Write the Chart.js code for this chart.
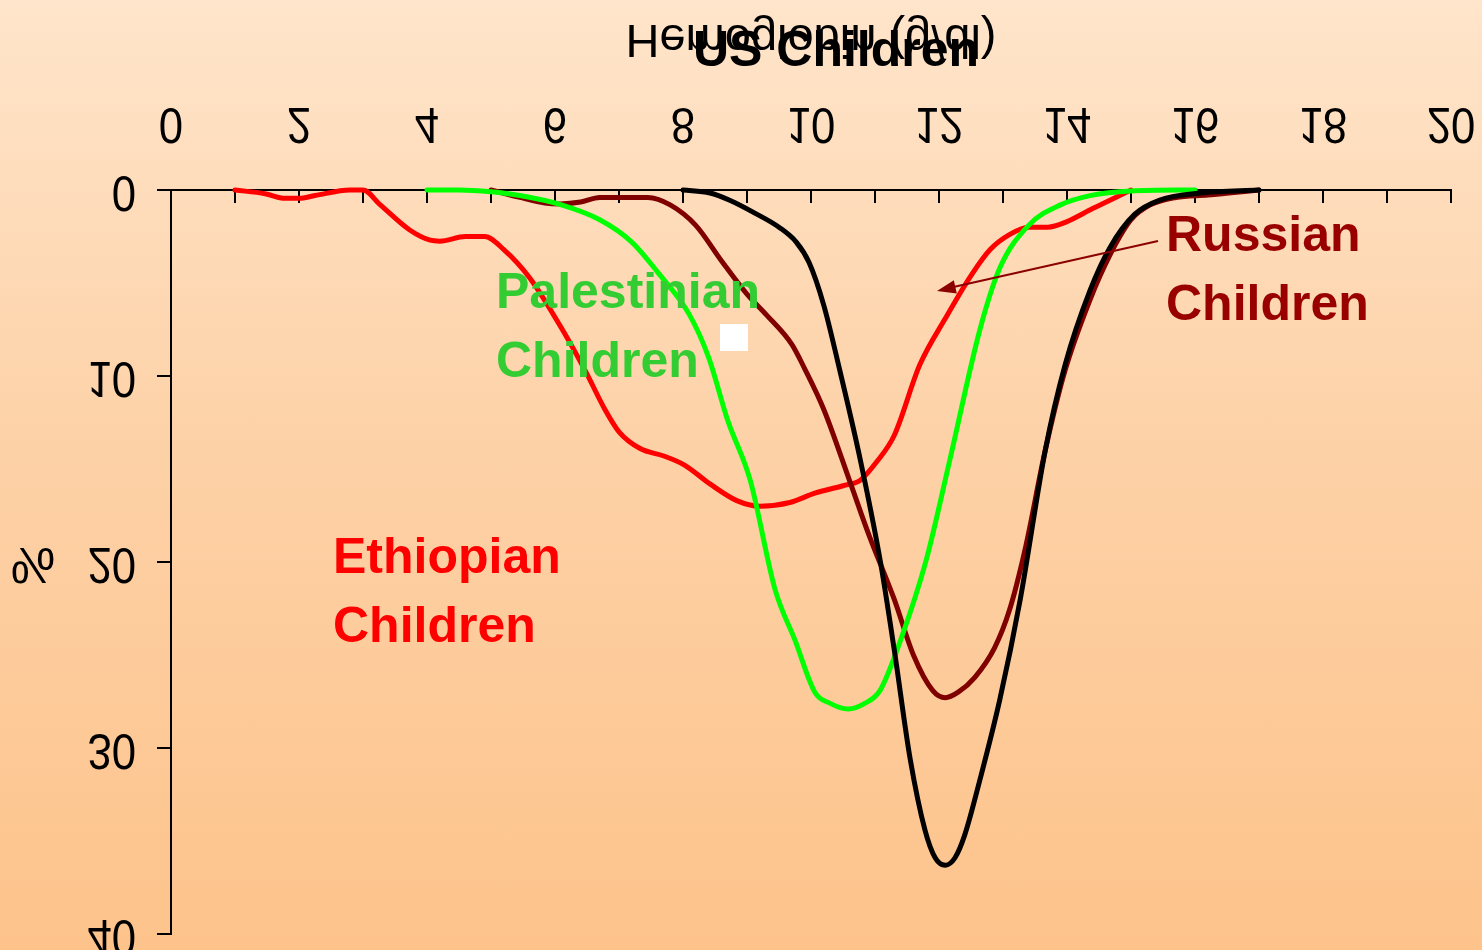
<!DOCTYPE html>
<html>
<head>
<meta charset="utf-8">
<script src="https://cdn.jsdelivr.net/npm/chart.js@4/dist/chart.umd.min.js"></script>
<style>
  html, body { margin: 0; padding: 0; overflow: hidden; }
  body { width: 1482px; height: 950px; background: linear-gradient(to bottom, #FFE5CB 0%, #FDD2A8 45%, #FDC38B 100%); }
  canvas { display: block; }
</style>
</head>
<body>
<canvas id="c" width="1482" height="950"></canvas>
<script>
// ---- Data (hemoglobin g/dl on x, % on y) ----
const ethiopianX = [1.0, 1.47, 1.78, 2.0, 2.25, 2.8, 3.0, 3.27, 3.73, 4.05, 4.2, 4.6, 4.9, 5.2, 5.6, 6.08, 6.47, 6.78, 7.0, 7.33, 7.7, 8.03, 8.42, 8.84, 9.2, 9.67, 10.06, 10.5, 10.77, 11.03, 11.3, 11.7, 12.1, 12.5, 12.8, 13.1, 13.4, 13.7, 14.0, 14.4, 15.0];
const ethiopianY = [0, 0.2, 0.45, 0.45, 0.3, 0, 0, 0.8, 2.15, 2.7, 2.75, 2.5, 2.5, 3.2, 4.7, 7.3, 9.7, 11.8, 13.0, 13.9, 14.3, 14.8, 15.8, 16.7, 17.0, 16.8, 16.3, 15.9, 15.6, 14.6, 13.2, 9.4, 6.9, 4.6, 3.2, 2.4, 2.0, 2.0, 1.7, 1.0, 0];

const palestinianX = [4.0, 4.5, 5.0, 5.45, 6.1, 6.7, 7.2, 7.6, 8.1, 8.4, 8.7, 9.05, 9.44, 9.75, 10.06, 10.3, 10.58, 10.84, 11.08, 11.4, 11.8, 12.17, 12.64, 12.95, 13.4, 13.9, 14.36, 15.0, 16.0];
const palestinianY = [0, 0, 0.1, 0.3, 0.8, 1.6, 2.8, 4.4, 6.7, 9.0, 12.4, 15.6, 21.5, 24.2, 27.0, 27.6, 27.9, 27.6, 26.9, 24.2, 19.9, 14.5, 7.5, 4.2, 1.9, 0.8, 0.3, 0.05, 0];

const russianX = [5.0, 5.45, 5.84, 6.08, 6.4, 6.7, 7.0, 7.45, 7.8, 8.2, 8.6, 9.0, 9.3, 9.7, 9.9, 10.2, 10.6, 10.9, 11.3, 11.6, 11.9, 12.1, 12.3, 12.56, 12.87, 13.1, 13.34, 13.66, 13.97, 14.36, 14.67, 15.0, 15.3, 15.7, 16.2, 17.0];
const russianY = [0, 0.4, 0.7, 0.75, 0.65, 0.4, 0.4, 0.4, 0.8, 1.9, 3.8, 5.6, 6.7, 8.3, 9.6, 11.8, 15.6, 18.5, 22.0, 25.0, 26.9, 27.3, 27.0, 26.2, 24.6, 22.6, 19.4, 14.0, 9.7, 5.9, 3.5, 1.6, 0.8, 0.4, 0.27, 0];

const usX = [8.0, 8.42, 8.73, 9.1, 9.5, 9.77, 9.97, 10.2, 10.45, 10.77, 11.08, 11.3, 11.55, 11.78, 11.94, 12.1, 12.25, 12.4, 12.64, 12.95, 13.27, 13.66, 13.97, 14.36, 14.67, 15.06, 15.45, 16.1, 17.0];
const usY = [0, 0.16, 0.55, 1.2, 2.0, 2.8, 3.9, 6.2, 9.7, 14.5, 19.9, 24.7, 30.6, 34.4, 35.9, 36.3, 35.9, 34.7, 31.7, 27.4, 22.0, 14.0, 9.4, 5.4, 3.1, 1.3, 0.54, 0.16, 0];

const xTickLabels = [0, 2, 4, 6, 8, 10, 12, 14, 16, 18, 20];
const yTickLabels = [0, 10, 20, 30, 40];
const xAxisTitle = 'Hemoglobin (g/dl)';
const yAxisTitle = '%';

function pts(xs, ys) { return xs.map((x, i) => ({ x: x, y: ys[i] })); }

function flipText(ctx, text, x, y, sx, sy) {
  ctx.save();
  ctx.translate(x, y);
  ctx.scale(sx || 1, -(sy || 1));
  ctx.fillText(text, 0, 0);
  ctx.restore();
}

const decorPlugin = {
  id: 'decor',
  afterDraw(chart) {
    const ctx = chart.ctx;
    const xs = chart.scales.x, ys = chart.scales.y;
    ctx.save();
    // flipped tick labels
    ctx.fillStyle = '#000';
    ctx.font = '46px "Liberation Sans", Arial, sans-serif';
    ctx.textAlign = 'center';
    ctx.textBaseline = 'middle';
    xTickLabels.forEach(v => flipText(ctx, String(v), xs.getPixelForValue(v), 122, 0.95, 1.08));
    ctx.textAlign = 'right';
    yTickLabels.forEach(v => flipText(ctx, String(v), 136, ys.getPixelForValue(v), 0.95, 1.08));
    // flipped axis titles
    ctx.textAlign = 'center';
    ctx.font = '47px "Liberation Sans", Arial, sans-serif';
    flipText(ctx, xAxisTitle, (chart.chartArea.left + chart.chartArea.right) / 2, 38);
    ctx.font = '50px "Liberation Sans", Arial, sans-serif';
    flipText(ctx, yAxisTitle, 33, ys.getPixelForValue(20));

    // series annotations
    ctx.font = 'bold 50px "Liberation Sans", Arial, sans-serif';
    ctx.textBaseline = 'alphabetic';
    ctx.fillStyle = '#000000';
    ctx.textAlign = 'center';
    ctx.fillText('US Children', 836, 66);
    ctx.textAlign = 'left';
    ctx.fillStyle = '#33CC33';
    ctx.fillText('Palestinian', 496, 308);
    ctx.fillText('Children', 496, 377);
    ctx.fillStyle = '#FF0000';
    ctx.fillText('Ethiopian', 333, 573);
    ctx.fillText('Children', 333, 642);
    ctx.fillStyle = '#990000';
    ctx.fillText('Russian', 1166, 251);
    ctx.fillText('Children', 1166, 320);

    // arrow
    const x1 = 1158, y1 = 241, x2 = 937, y2 = 291;
    ctx.strokeStyle = '#8B0000';
    ctx.fillStyle = '#8B0000';
    ctx.lineWidth = 2;
    ctx.beginPath(); ctx.moveTo(x1, y1); ctx.lineTo(x2 + 12, y2 - 3); ctx.stroke();
    const ang = Math.atan2(y2 - y1, x2 - x1);
    ctx.beginPath();
    ctx.moveTo(x2, y2);
    ctx.lineTo(x2 - 20 * Math.cos(ang - 0.35), y2 - 20 * Math.sin(ang - 0.35));
    ctx.lineTo(x2 - 20 * Math.cos(ang + 0.35), y2 - 20 * Math.sin(ang + 0.35));
    ctx.closePath(); ctx.fill();

    // white square
    ctx.fillStyle = '#FFFFFF';
    ctx.fillRect(720, 324, 28, 27);
    ctx.restore();
  }
};

const common = { pointRadius: 0, borderWidth: 5, showLine: true, fill: false, cubicInterpolationMode: 'monotone', clip: false, borderCapStyle: 'round', borderJoinStyle: 'round' };

new Chart(document.getElementById('c'), {
  type: 'scatter',
  data: {
    datasets: [
      Object.assign({ label: 'US Children', data: pts(usX, usY), borderColor: '#000000' }, common),
      Object.assign({ label: 'Palestinian Children', data: pts(palestinianX, palestinianY), borderColor: '#00FF00' }, common),
      Object.assign({ label: 'Russian Children', data: pts(russianX, russianY), borderColor: '#800000' }, common),
      Object.assign({ label: 'Ethiopian Children', data: pts(ethiopianX, ethiopianY), borderColor: '#FF0000' }, common)
    ]
  },
  options: {
    responsive: false,
    animation: false,
    layout: { padding: { left: 0, top: 0, right: 31, bottom: 16 } },
    plugins: { legend: { display: false }, tooltip: { enabled: false }, title: { display: false } },
    scales: {
      x: {
        type: 'linear', position: 'top', min: 0, max: 20,
        ticks: { stepSize: 1, display: false, autoSkip: false },
        grid: { drawOnChartArea: false, drawTicks: true, tickLength: -13, color: '#000', lineWidth: 2 },
        border: { display: true, color: '#000', width: 2 },
        afterFit(scale) { scale.height = 190; }
      },
      y: {
        type: 'linear', position: 'left', min: 0, max: 40, reverse: true,
        ticks: { stepSize: 10, display: false },
        grid: { drawOnChartArea: false, drawTicks: true, tickLength: 14, color: '#000', lineWidth: 2 },
        border: { display: true, color: '#000', width: 2 },
        afterFit(scale) { scale.width = 171; }
      }
    }
  },
  plugins: [decorPlugin]
});
</script>
</body>
</html>
